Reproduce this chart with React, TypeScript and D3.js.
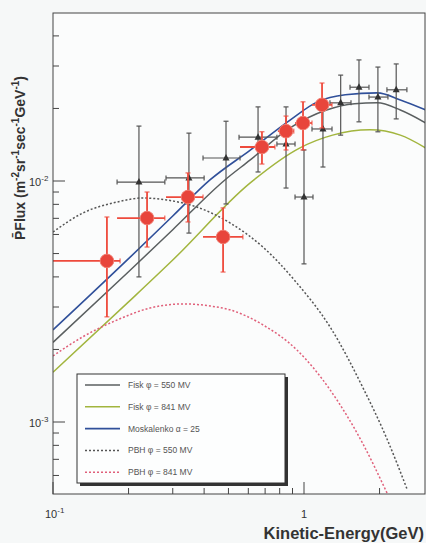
import React from "react";
import * as d3 from "d3";

// ---- data ----
const redE = [0.164, 0.237, 0.345, 0.476, 0.68, 0.848, 0.991, 1.18];
const redElo = [0.1, 0.18, 0.282, 0.396, 0.556, 0.787, 0.921, 1.076];
const redEhi = [0.185, 0.279, 0.396, 0.571, 0.766, 0.911, 1.076, 1.293];
const redF = [0.00466, 0.00702, 0.00858, 0.00586, 0.01384, 0.0161, 0.0174, 0.0207];
const redFlo = [0.00273, 0.00532, 0.00676, 0.00419, 0.01176, 0.01345, 0.01345, 0.0166];
const redFhi = [0.00709, 0.009, 0.0108, 0.00773, 0.016, 0.0186, 0.0213, 0.0255];

const blackE = [0.22, 0.348, 0.489, 0.656, 0.848, 1.0, 1.19, 1.4, 1.656, 1.97, 2.33];
const blackElo = [0.18, 0.282, 0.396, 0.551, 0.78, 0.921, 1.076, 1.269, 1.525, 1.815, 2.14];
const blackEhi = [0.279, 0.4, 0.556, 0.78, 0.921, 1.086, 1.293, 1.539, 1.815, 2.16, 2.57];
const blackF = [0.0099, 0.0103, 0.01246, 0.0152, 0.01424, 0.00858, 0.01644, 0.0211, 0.0245, 0.0223, 0.0239];
const blackFlo = [0.004, 0.00608, 0.00803, 0.0109, 0.00935, 0.00453, 0.01143, 0.0155, 0.0176, 0.016, 0.0181];
const blackFhi = [0.0169, 0.0158, 0.0177, 0.0203, 0.0203, 0.01345, 0.0213, 0.0275, 0.0318, 0.0297, 0.0306];

const fisk550E = [0.1, 0.2, 0.3, 0.484, 0.609, 0.88, 1.23, 1.59, 1.96, 2.42, 3.06];
const fisk550F = [0.00214, 0.0042, 0.00628, 0.0101, 0.0122, 0.0166, 0.0197, 0.0209, 0.0211, 0.0197, 0.0174];
const fisk841E = [0.1, 0.2, 0.3, 0.609, 0.96, 1.3, 1.83, 2.42, 3.06];
const fisk841F = [0.00161, 0.00315, 0.0047, 0.0098, 0.0137, 0.0155, 0.0163, 0.0155, 0.0137];
const moskE = [0.1, 0.2, 0.3, 0.422, 0.609, 0.88, 1.13, 1.46, 1.96, 2.42, 3.06];
const moskF = [0.00241, 0.00476, 0.00716, 0.0101, 0.0134, 0.0179, 0.0213, 0.0228, 0.0232, 0.0217, 0.0197];
const pbh550E = [0.1, 0.1317, 0.18, 0.228, 0.284, 0.374, 0.507, 0.686, 0.937, 1.27, 1.71, 2.15, 2.58];
const pbh550F = [0.00614, 0.00737, 0.00818, 0.0085, 0.00834, 0.0078, 0.0067, 0.00532, 0.00377, 0.00248, 0.0014, 0.000842, 0.000523];
const pbh841E = [0.1, 0.1317, 0.18, 0.243, 0.329, 0.422, 0.507, 0.686, 0.937, 1.27, 1.71, 2.15];
const pbh841F = [0.00188, 0.00226, 0.00265, 0.00297, 0.00309, 0.00303, 0.00292, 0.00253, 0.00199, 0.00136, 0.000818, 0.000503];

const xMinorTicks = [0.2, 0.3, 0.4, 0.5, 0.6, 0.7, 0.8, 0.9, 2];
const xMajorTicks = [0.1, 1];
const yMajorTicks = [0.001, 0.01];
const yMinorTicks = [0.0006, 0.0007, 0.0008, 0.0009, 0.002, 0.003, 0.004, 0.005, 0.006, 0.007, 0.008, 0.009, 0.02, 0.03, 0.04];

const legendLabels = ["Fisk φ = 550 MV", "Fisk φ = 841 MV", "Moskalenko α = 25", "PBH φ = 550 MV", "PBH φ = 841 MV"];

export default function App() {
  const W = 426, H = 543;
  const L = 53, R = 425, T = 13, B = 494;
  const x = d3.scaleLog().domain([0.1, 1]).range([L, 304]);
  const y = d3.scaleLog().domain([0.001, 0.01]).range([422, 181]);
  const line = d3
    .line<[number, number]>()
    .x((d) => x(d[0]))
    .y((d) => y(d[1]))
    .curve(d3.curveMonotoneX);
  const mk = (E: number[], F: number[]) => line(E.map((e, i) => [e, F[i]] as [number, number])) || "";

  const curves = [
    { d: mk(fisk550E, fisk550F), color: "#5a5f60", dash: "", w: 1.5 },
    { d: mk(fisk841E, fisk841F), color: "#a2b53e", dash: "", w: 1.5 },
    { d: mk(moskE, moskF), color: "#30509a", dash: "", w: 1.6 },
    { d: mk(pbh550E, pbh550F), color: "#555", dash: "2,2", w: 1.5 },
    { d: mk(pbh841E, pbh841F), color: "#e0607a", dash: "2,2", w: 1.5 },
  ];

  const font = "Liberation Sans, Arial, Helvetica, sans-serif";
  const cap = 2.5;

  return (
    <svg
      width={W}
      height={H}
      style={{ position: "absolute", left: 0, top: 0, background: "#f6f8f8" }}
      fontFamily={font}
    >
      <defs>
        <clipPath id="plot">
          <rect x={L} y={T} width={R - L} height={B - T} />
        </clipPath>
      </defs>
      <rect x={0} y={0} width={W} height={H} fill="#f6f8f8" />
      <rect x={L} y={T} width={R - L} height={B - T} fill="#fbfcfc" />

      <g clipPath="url(#plot)">
        {curves.map((c, i) => (
          <path key={i} d={c.d} fill="none" stroke={c.color} strokeWidth={c.w} strokeDasharray={c.dash || undefined} />
        ))}

        {/* black data points */}
        {blackE.map((e, i) => {
          const cx = x(e), cy = y(blackF[i]);
          const x0 = x(blackElo[i]), x1 = x(blackEhi[i]);
          const y0 = y(blackFhi[i]), y1 = y(blackFlo[i]);
          return (
            <g key={"b" + i} stroke="#555" strokeWidth={1.2}>
              <line x1={cx} x2={cx} y1={y0} y2={y1} />
              <line x1={x0} x2={x1} y1={cy} y2={cy} />
              <line x1={cx - cap} x2={cx + cap} y1={y0} y2={y0} />
              <line x1={cx - cap} x2={cx + cap} y1={y1} y2={y1} />
              <line x1={x0} x2={x0} y1={cy - cap} y2={cy + cap} />
              <line x1={x1} x2={x1} y1={cy - cap} y2={cy + cap} />
              <path d={`M${cx},${cy - 4}L${cx + 3.5},${cy + 2.5}L${cx - 3.5},${cy + 2.5}Z`} fill="#333" stroke="none" />
            </g>
          );
        })}

        {/* red data points */}
        {redE.map((e, i) => {
          const cx = x(e), cy = y(redF[i]);
          const x0 = x(redElo[i]), x1 = x(redEhi[i]);
          const y0 = y(redFhi[i]), y1 = y(redFlo[i]);
          return (
            <g key={"r" + i} stroke="#ee4a3c" strokeWidth={1.8}>
              <line x1={cx} x2={cx} y1={y0} y2={y1} />
              <line x1={x0} x2={x1} y1={cy} y2={cy} />
              <line x1={cx - cap} x2={cx + cap} y1={y0} y2={y0} strokeWidth={1} />
              <line x1={cx - cap} x2={cx + cap} y1={y1} y2={y1} strokeWidth={1} />
              <line x1={x1} x2={x1} y1={cy - cap} y2={cy + cap} strokeWidth={1} />
              <circle cx={cx} cy={cy} r={6.8} fill="#e8453b" stroke="#f07c70" strokeWidth={1} />
            </g>
          );
        })}
      </g>

      {/* frame */}
      <rect x={L} y={T} width={R - L} height={B - T} fill="none" stroke="#444" strokeWidth={1} />

      {/* ticks */}
      {xMinorTicks.map((t) => (
        <line key={"xm" + t} x1={x(t)} x2={x(t)} y1={B} y2={B - 6} stroke="#444" />
      ))}
      {xMajorTicks.map((t) => (
        <line key={"xM" + t} x1={x(t)} x2={x(t)} y1={B} y2={B - 12} stroke="#444" />
      ))}
      {yMinorTicks.map((t) => (
        <line key={"ym" + t} x1={L} x2={L + 6} y1={y(t)} y2={y(t)} stroke="#444" />
      ))}
      {yMajorTicks.map((t) => (
        <line key={"yM" + t} x1={L} x2={L + 12} y1={y(t)} y2={y(t)} stroke="#444" />
      ))}

      {/* tick labels */}
      {xMajorTicks.map((t) => (
        <text key={"xl" + t} x={t < 1 ? x(t) - 8 : x(t)} y={518} fontSize={11} fill="#333" textAnchor={t < 1 ? "start" : "middle"}>
          {t < 1 ? (
            <>
              10<tspan dy={-5} fontSize={8}>-1</tspan>
            </>
          ) : (
            "1"
          )}
        </text>
      ))}
      {yMajorTicks.map((t) => (
        <text key={"yl" + t} x={29} y={y(t) + 5} fontSize={11} fill="#333" textAnchor="start">
          10<tspan dy={-5} fontSize={8}>{t === 0.01 ? "-2" : "-3"}</tspan>
        </text>
      ))}

      {/* axis titles */}
      <text x={424} y={539} fontSize={16.5} fontWeight="bold" fill="#333" textAnchor="end">
        Kinetic-Energy(GeV)
      </text>
      <text
        transform="translate(25,240) rotate(-90)"
        fontSize={14}
        fontWeight="bold"
        fill="#333"
        textAnchor="start"
      >
        P̄Flux (m<tspan dy={-6} fontSize={10}>-2</tspan>
        <tspan dy={6}>sr</tspan>
        <tspan dy={-6} fontSize={10}>-1</tspan>
        <tspan dy={6}>sec</tspan>
        <tspan dy={-6} fontSize={10}>-1</tspan>
        <tspan dy={6}>GeV</tspan>
        <tspan dy={-6} fontSize={10}>-1</tspan>
        <tspan dy={6}>)</tspan>
      </text>

      {/* legend */}
      <g>
        <rect x={80} y={377} width={208} height={109} fill="#333" />
        <rect x={77} y={374} width={208} height={109} fill="#fdfefe" stroke="#333" strokeWidth={1} />
        {legendLabels.map((lab, i) => {
          const ly = 385 + i * 21.8;
          const c = curves[i];
          return (
            <g key={lab}>
              <line x1={85} x2={120} y1={ly} y2={ly} stroke={c.color} strokeWidth={c.w} strokeDasharray={c.dash || undefined} />
              <text x={128} y={ly + 3} fontSize={8.5} fill="#555">
                {lab}
              </text>
            </g>
          );
        })}
      </g>
    </svg>
  );
}
